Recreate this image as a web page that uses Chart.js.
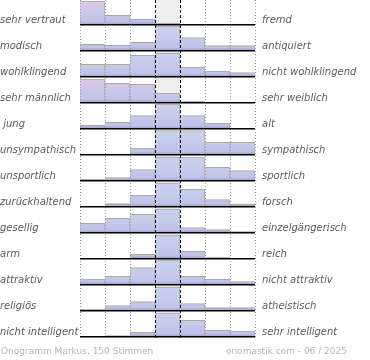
<!DOCTYPE html>
<html>
<head>
<meta charset="utf-8">
<script src="https://cdn.jsdelivr.net/npm/chart.js@4.4.1/dist/chart.umd.min.js"></script>
<style>
  body { margin: 0; background: #fff; }
  canvas { display: block; }
</style>
</head>
<body>
<canvas id="onogramm" width="370" height="360"></canvas>
<script>
// Gegensatzpaare (links / rechts)
const leftLabels = ["sehr vertraut", "modisch", "wohlklingend", "sehr männlich", " jung", "unsympathisch", "unsportlich", "zurückhaltend", "gesellig", "arm", "attraktiv", "religiös", "nicht intelligent"];
const rightLabels = ["fremd", "antiquiert", "nicht wohlklingend", "sehr weiblich", "alt", "sympathisch", "sportlich", "forsch", "einzelgängerisch", "reich", "nicht attraktiv", "atheistisch", "sehr intelligent"];
const steps = ["1", "2", "3", "4", "5", "6", "7"];

// relative bar heights per row (full row = 25)
const votes = [
    [24, 9.7, 5.7, 1.7, 0, 0, 1],
    [6.7, 5.7, 8.7, 25, 13.3, 5.3, 5.3],
    [12.7, 12.7, 21.7, 23.7, 10, 6, 4.3],
    [24, 19.7, 18.7, 9.7, 2, 0, 1],
    [3.7, 6.7, 13.3, 25, 13.3, 5.7, 0],
    [1, 1, 7, 24.3, 24.3, 12.7, 12.7],
    [2, 3.3, 11.3, 24, 24, 13.7, 10.3],
    [0, 3.3, 11.7, 24, 17.7, 7.3, 3],
    [9.7, 14.7, 18.7, 24, 5.3, 3.3, 1.3],
    [0, 0, 4.7, 24, 7.7, 2, 0],
    [6, 9, 17.3, 25, 8.7, 5.7, 3.3],
    [2, 5.3, 9.3, 24, 7.3, 3.3, 3.3],
    [0, 1.5, 4.7, 24, 16.7, 7, 6]
];
const middleStep = [0, 0, 0, 1, 0, 0, 0];

const footerLeft = "Onogramm Markus, 150 Stimmen";
const footerRight = "onomastik.com - 06 / 2025";

const labelFont = { family: "DejaVu Sans", size: 10, style: "italic" };
const labelColor = "#5a5a5a";
const isMiddle = (c) => c.index === 3 || c.index === 4;

// rows whose peak is on the left side get the pink tint
const leansLeft = (row) => row.indexOf(Math.max(...row)) < 3;

const rowFill = (i) => (ctx) => {
    const chart = ctx.chart;
    const scale = chart.scales["l" + i];
    if (!scale || !chart.chartArea) return "#c4cae9";
    const top = scale.getPixelForValue(25);
    const base = scale.getPixelForValue(0);
    const g = chart.ctx.createLinearGradient(0, top, 0, base);
    const pink = leansLeft(votes[i]);
    g.addColorStop(0, pink ? "#dec6e6" : "#cbd2ef");
    g.addColorStop(0.5, pink ? "#cac8ea" : "#c4cbeb");
    g.addColorStop(0.86, "#bec4e8");
    g.addColorStop(1, "#a096cc");
    return g;
};

const scales = {
    x: {
        type: "category",
        labels: steps,
        offset: true,
        grid: {
            offset: true,
            drawTicks: false,
            lineWidth: 1,
            z: 1,
            color: (c) => isMiddle(c) ? "#111" : "#9a9a9a"
        },
        border: { display: false, dash: (c) => isMiddle(c) ? [3, 2] : [1, 2] },
        ticks: { display: false }
    },
    bg: { display: false, position: "left", min: 0, max: 1 }
};

leftLabels.forEach((label, i) => {
    scales["l" + i] = {
        type: "linear",
        position: "left",
        stack: "left",
        weight: leftLabels.length - i,
        min: -1,
        max: 25,
        afterBuildTicks: (s) => { s.ticks = [{ value: 0 }, { value: 4.5 }]; },
        afterFit: (s) => { s.width = 80; s.paddingTop = 0; s.paddingBottom = 0; },
        grid: {
            drawTicks: false,
            lineWidth: 1.6,
            z: 2,
            color: (c) => c.tick && c.tick.value === 0 ? "#000" : "rgba(0,0,0,0)"
        },
        border: { display: false },
        ticks: {
            autoSkip: false,
            crossAlign: "far",
            padding: 0,
            color: labelColor,
            font: labelFont,
            callback: (v) => v === 4.5 ? label : ""
        }
    };
});

rightLabels.forEach((label, i) => {
    scales["r" + i] = {
        type: "linear",
        position: "right",
        stack: "right",
        weight: i,
        min: -1,
        max: 25,
        afterBuildTicks: (s) => { s.ticks = [{ value: 4.5 }]; },
        afterFit: (s) => { s.width = 115; s.paddingTop = 0; s.paddingBottom = 0; },
        grid: { display: false, drawTicks: false },
        border: { display: false },
        ticks: {
            autoSkip: false,
            padding: 7,
            color: labelColor,
            font: labelFont,
            callback: () => label
        }
    };
});

const datasets = votes.map((row, i) => ({
    data: row,
    xAxisID: "x",
    yAxisID: "l" + i,
    grouped: false,
    categoryPercentage: 1,
    barPercentage: 1,
    backgroundColor: rowFill(i),
    borderColor: "#a8a8a8",
    borderWidth: { top: 1, right: 1, left: 0, bottom: 0 },
    order: 1
}));

datasets.push({
    data: middleStep,
    xAxisID: "x",
    yAxisID: "bg",
    grouped: false,
    categoryPercentage: 1,
    barPercentage: 1,
    backgroundColor: "#eeeeee",
    borderWidth: 0,
    order: 2
});

// footer texts
const footer = {
    id: "footer",
    afterDraw(chart) {
        const c = chart.ctx;
        const y = chart.height - 8;
        c.save();
        c.font = '9px "DejaVu Sans"';
        c.fillStyle = "#b5b5b5";
        c.textBaseline = "middle";
        c.textAlign = "left";
        c.fillText(footerLeft, 1, y);
        c.textAlign = "right";
        c.fillText(footerRight, 347, y);
        c.restore();
    }
};

new Chart(document.getElementById("onogramm"), {
    type: "bar",
    data: { labels: steps, datasets },
    options: {
        responsive: false,
        animation: false,
        events: [],
        layout: { padding: { top: 0, bottom: 22, left: 0, right: 0 } },
        plugins: { legend: { display: false }, tooltip: { enabled: false } },
        scales
    },
    plugins: [footer]
});
</script>
</body>
</html>
